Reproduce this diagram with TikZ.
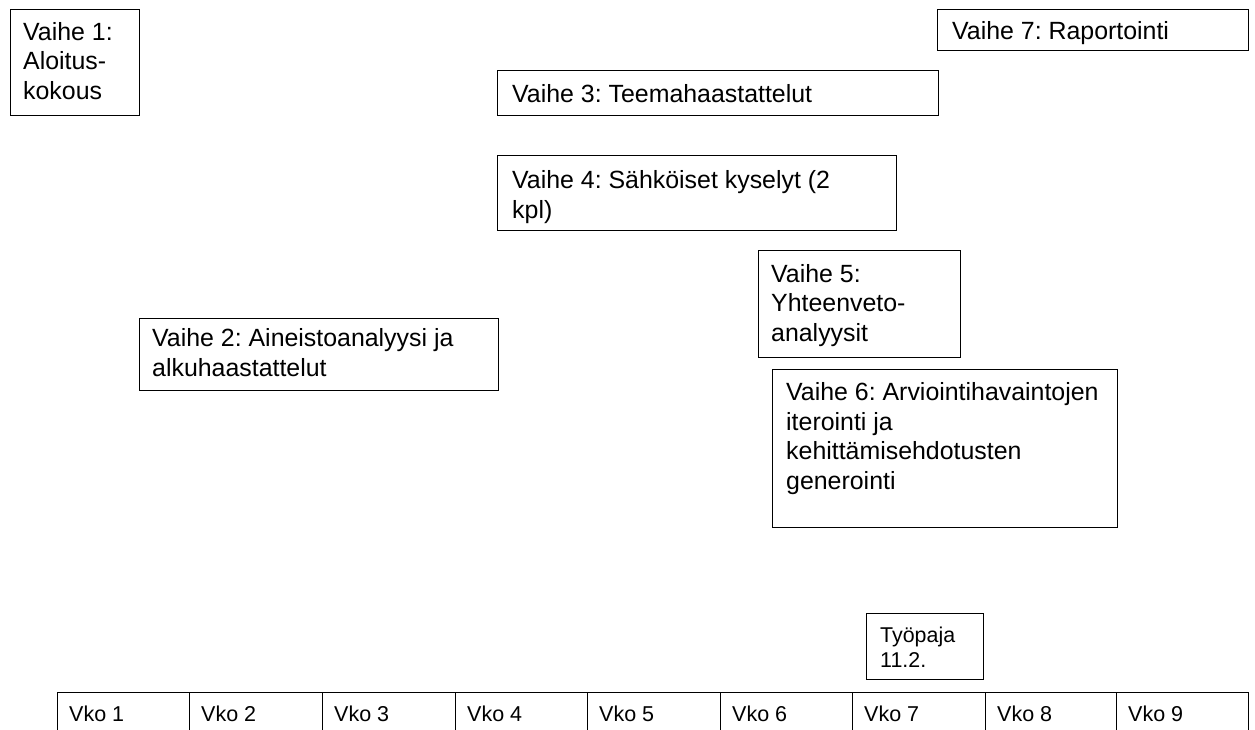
\documentclass[tikz,border=0pt]{standalone}
\usepackage{fontspec}
\setmainfont{Liberation Sans}
\frenchspacing
\begin{document}
\begin{tikzpicture}[x=1pt,y=-1pt,
  box/.style={draw, line width=0.9pt},
  txt/.style={anchor=base west, inner sep=0pt, align=left, font=\fontsize{24.9}{29.5}\selectfont},
  smalltxt/.style={anchor=base west, inner sep=0pt, align=left, font=\fontsize{21.4}{25}\selectfont},
  vkotxt/.style={anchor=base west, inner sep=0pt, font=\fontsize{21.5}{24}\selectfont},
]
\useasboundingbox (0,0) rectangle (1255,729);
% Phase boxes (multi-line text nodes are placed at the baseline of their last line)
\draw[box] (10,9) rectangle (139,115);
\node[txt] (t1) at (23,99) {Vaihe 1:\\Aloitus-\\kokous};
\draw[box] (937,9) rectangle (1248,50);
\node[txt] (t7) at (952,39) {Vaihe 7: Raportointi};
\draw[box] (497,70) rectangle (938,115);
\node[txt] (t3) at (512,102) {Vaihe 3: Teemahaastattelut};
\draw[box] (497,155) rectangle (896,230);
\node[txt] (t4) at (512,218) {Vaihe 4: Sähköiset kyselyt (2\\kpl)};
\draw[box] (758,250) rectangle (960,357);
\node[txt] (t5) at (771,341) {Vaihe 5:\\Yhteenveto-\\analyysit};
\draw[box] (139,318) rectangle (498,390);
\node[txt] (t2) at (152,376) {Vaihe 2: Aineistoanalyysi ja\\alkuhaastattelut};
\draw[box] (772,369) rectangle (1117,527);
\node[txt] (t6) at (786,489) {Vaihe 6: Arviointihavaintojen\\iterointi ja\\kehittämisehdotusten\\generointi};
\draw[box] (866,613) rectangle (983,679);
\node[smalltxt] (tp) at (880,667) {Työpaja\\11.2.};
% Week row
\draw[box] (57,735) -- (57,692) -- (1248,692) -- (1248,735);
\foreach \i/\x in {1/57,2/189,3/322,4/455,5/587,6/720,7/852,8/985,9/1116}{
  \draw[box] (\x,692) -- (\x,735);
  \node[vkotxt] (vko\i) at (\x+12,721) {Vko \i};
}
\end{tikzpicture}
\end{document}
